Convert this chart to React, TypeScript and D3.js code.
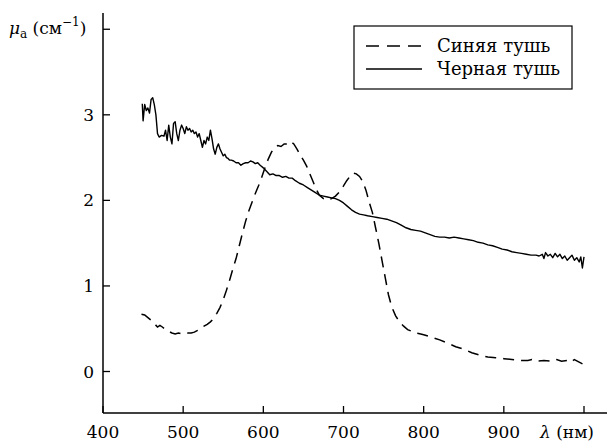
import React from 'react';
import * as d3 from 'd3';

// black ink, wavelength (nm) and absorption coefficient (cm^-1)
const blackWl = [
  449, 450, 452, 454, 456, 458, 460, 462, 464, 466, 468, 470, 473, 476, 478, 480, 482, 484, 486, 488,
  490, 492, 494, 496, 498, 500, 502, 504, 506, 508, 510, 512, 514, 516, 518, 520, 522, 524, 526, 528,
  530, 532, 534, 536, 538, 540, 542, 544, 546, 548, 550, 552, 554, 556, 558, 560, 563, 566, 569, 572,
  575, 578, 581, 584, 587, 590, 593, 596, 600, 604, 608, 612, 616, 620, 624, 628, 632, 636, 640, 645,
  650, 655, 660, 665, 670, 675, 680, 685, 690, 695, 700, 705, 710, 715, 720, 725, 730, 736, 742, 748,
  754, 760, 766, 772, 778, 784, 790, 796, 802, 808, 814, 820, 826, 832, 838, 844, 850, 856, 862, 868,
  874, 880, 886, 892, 898, 904, 910, 916, 922, 928, 934, 940, 944, 948, 950, 952, 955, 958, 961, 964,
  967, 970, 973, 976, 979, 982, 985, 988, 991, 994, 996, 998, 1000,
];
const blackMu = [
  3.13, 2.93, 3.12, 3.05, 3.08, 3.02, 3.18, 3.2, 3.12, 3.0, 2.78, 2.74, 2.76, 2.75, 2.82, 2.7, 2.88, 2.74, 2.66, 2.9,
  2.92, 2.78, 2.7, 2.82, 2.88, 2.84, 2.78, 2.86, 2.82, 2.84, 2.8, 2.82, 2.78, 2.8, 2.74, 2.78, 2.7, 2.62, 2.7, 2.66,
  2.74, 2.7, 2.82, 2.72, 2.6, 2.54, 2.62, 2.66, 2.6, 2.56, 2.52, 2.54, 2.5, 2.49, 2.47, 2.47, 2.46, 2.44, 2.44, 2.41,
  2.43, 2.44, 2.44, 2.46, 2.45, 2.43, 2.44, 2.41, 2.38, 2.34, 2.3, 2.31, 2.29, 2.29, 2.27, 2.28, 2.26, 2.26, 2.23, 2.2,
  2.18, 2.15, 2.12, 2.09, 2.06, 2.05, 2.04, 2.03, 2.02, 2.0, 1.97, 1.93, 1.89, 1.86, 1.84, 1.83, 1.82, 1.81, 1.8, 1.79,
  1.78, 1.76, 1.74, 1.71, 1.68, 1.66, 1.65, 1.64, 1.62, 1.6, 1.58, 1.57, 1.57, 1.56, 1.57, 1.56, 1.55, 1.54, 1.53, 1.51,
  1.5, 1.48, 1.47, 1.45, 1.43, 1.42, 1.4, 1.39, 1.38, 1.37, 1.36, 1.36, 1.35, 1.37, 1.32, 1.39, 1.35, 1.37, 1.33, 1.38,
  1.34, 1.37, 1.32, 1.35, 1.3, 1.33, 1.36, 1.3, 1.33, 1.28, 1.34, 1.21, 1.34,
];

// blue ink
const blueWl = [
  448, 452, 456, 460, 464, 468, 471, 474, 478, 482, 486, 490, 494, 498, 502, 506, 510, 514, 518, 522,
  526, 530, 534, 538, 542, 546, 550, 554, 558, 562, 566, 570, 574, 578, 582, 586, 590, 594, 598, 602,
  606, 610, 614, 618, 622, 626, 630, 634, 638, 642, 646, 650, 654, 658, 662, 666, 670, 675, 680, 685,
  690, 695, 700, 704, 708, 712, 716, 720, 724, 728, 732, 736, 740, 744, 748, 752, 756, 760, 765, 770,
  775, 780, 785, 790, 795, 800, 810, 820, 830, 840, 850, 860, 870, 880, 890, 900, 910, 920, 930, 935,
  940, 950, 960, 966, 972, 980, 984, 988, 994, 1000,
];
const blueMu = [
  0.67, 0.66, 0.63, 0.6, 0.56, 0.52, 0.54, 0.52, 0.49, 0.47, 0.45, 0.44, 0.45, 0.44, 0.44, 0.45, 0.45, 0.46, 0.48, 0.5,
  0.53, 0.55, 0.58, 0.62, 0.68, 0.75, 0.84, 0.95, 1.07, 1.2, 1.32, 1.47, 1.62, 1.76, 1.88, 1.98, 2.08, 2.17, 2.27, 2.38,
  2.48, 2.56, 2.62, 2.64, 2.63, 2.66, 2.66, 2.69, 2.66, 2.6, 2.53, 2.47, 2.4, 2.31, 2.22, 2.13, 2.06, 2.02, 2.0, 2.02,
  2.05, 2.1, 2.17, 2.23, 2.28, 2.32, 2.31, 2.28, 2.22, 2.12, 1.98, 1.86, 1.68, 1.5, 1.3, 1.1, 0.9, 0.76, 0.65, 0.58,
  0.53, 0.49, 0.47, 0.45, 0.44, 0.43, 0.4, 0.37, 0.33, 0.29, 0.26, 0.22, 0.19, 0.17, 0.16, 0.15, 0.14, 0.13, 0.13, 0.14,
  0.12, 0.13, 0.12, 0.14, 0.12, 0.13, 0.11, 0.14, 0.11, 0.08,
];

const xTicks = [400, 500, 600, 700, 800, 900, 1000];
const xTickLabels = ['400', '500', '600', '700', '800', '900'];
const yTicks = [0, 1, 2, 3, 4];
const yTickLabels = ['0', '1', '2', '3'];
const legendLabels = ['Синяя тушь', 'Черная тушь'];

const W = 607;
const H = 442;
const txt = { fontFamily: '"DejaVu Serif", serif', fill: '#000' };

const App = () => {
  const x = d3.scaleLinear().domain([400, 1000]).range([103, 584]);
  const y = d3.scaleLinear().domain([-0.485, 4.19]).range([413, 13]);

  const line = d3
    .line<[number, number]>()
    .x((d) => x(d[0]))
    .y((d) => y(d[1]));

  const blackData = blackWl.map((w, i) => [w, blackMu[i]] as [number, number]);
  const blueData = blueWl.map((w, i) => [w, blueMu[i]] as [number, number]);

  const x0 = x(400);
  const yAxisY = y(-0.485);

  return (
    <svg width={W} height={H} style={{ position: 'absolute', left: 0, top: 0, background: '#fff' }}>
      {/* axes */}
      <line x1={x0} x2={x0} y1={13} y2={yAxisY} stroke="#000" strokeWidth={1.5} />
      <line x1={x0} x2={W} y1={yAxisY} y2={yAxisY} stroke="#000" strokeWidth={1.5} />
      {xTicks.map((t) => (
        <line key={t} x1={x(t)} x2={x(t)} y1={yAxisY} y2={yAxisY - 7} stroke="#000" strokeWidth={1.3} />
      ))}
      {xTickLabels.map((t) => (
        <text key={t} x={x(+t)} y={438} fontSize={17} textAnchor="middle" style={txt}>
          {t}
        </text>
      ))}
      <text x={540} y={438} fontSize={17} style={txt}>
        <tspan fontStyle="italic">λ</tspan> (нм)
      </text>
      {yTicks.map((t) => (
        <line key={t} x1={x0} x2={x0 + 7} y1={y(t)} y2={y(t)} stroke="#000" strokeWidth={1.3} />
      ))}
      {yTickLabels.map((t) => (
        <text key={t} x={94} y={y(+t) + 6} fontSize={17} textAnchor="end" style={txt}>
          {t}
        </text>
      ))}
      <text x={9} y={34} fontSize={17} style={txt}>
        <tspan fontStyle="italic">μ</tspan>
        <tspan fontSize={12} dy={4}>a</tspan>
        <tspan dy={-4}> (см</tspan>
        <tspan fontSize={12} dy={-8}>−1</tspan>
        <tspan dy={8}>)</tspan>
      </text>

      {/* curves */}
      <path d={line(blueData) || ''} fill="none" stroke="#000" strokeWidth={1.5} strokeDasharray="11,7" />
      <path d={line(blackData) || ''} fill="none" stroke="#000" strokeWidth={1.4} strokeLinejoin="round" />

      {/* legend */}
      <rect x={354} y={26} width={218} height={63} fill="#fff" stroke="#000" strokeWidth={1.2} />
      <line x1={366} x2={422} y1={46} y2={46} stroke="#000" strokeWidth={1.5} strokeDasharray="13,8" />
      <line x1={366} x2={422} y1={69} y2={69} stroke="#000" strokeWidth={1.5} />
      <text x={437} y={52} fontSize={18} style={txt}>
        {legendLabels[0]}
      </text>
      <text x={437} y={75} fontSize={18} style={txt}>
        {legendLabels[1]}
      </text>
    </svg>
  );
};

export default App;
